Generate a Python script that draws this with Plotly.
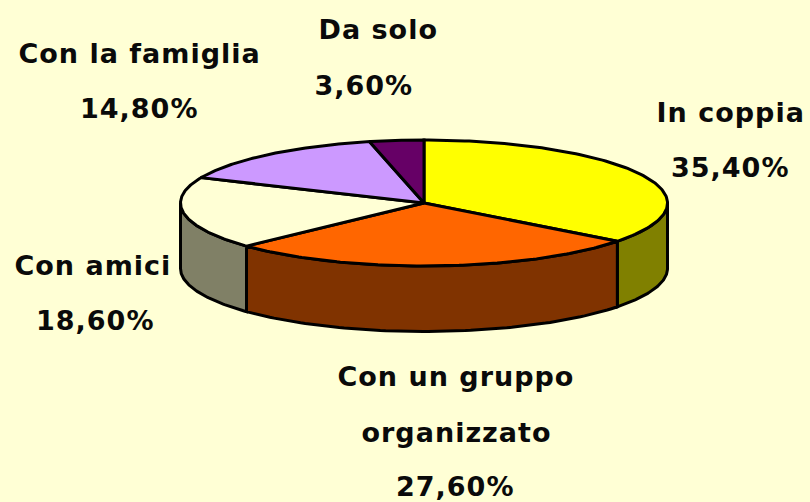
import numpy as np
import plotly.graph_objects as go

categories = ["In coppia", "Con un gruppo organizzato", "Con amici", "Con la famiglia", "Da solo"]
values = [35.4, 27.6, 18.6, 14.8, 3.6]
top_colors = ["#FFFF00", "#FF6600", "#FFFFD5", "#CC99FF", "#660066"]
side_colors = ["#808000", "#803300", "#808066", "#665080", "#330033"]
label_texts = ["In coppia", "35,40%", "Con un gruppo", "organizzato", "27,60%",
               "Con amici", "18,60%", "Con la famiglia", "14,80%", "Da solo", "3,60%"]
label_x = [730, 730, 456, 456, 455, 93, 95, 139, 139, 378, 364]
label_y = [112, 167, 376, 432, 486, 265, 320, 53, 108, 29, 85]

W, H = 810, 502
CX, CY, RX, RY, DEPTH = 424, 203, 243.5, 63, 65.5
BG = "#FFFFD5"
FONT = dict(family="DejaVu Sans", size=27, color="#0a0a0a", weight=700)

def ell(a, dy=0):
    a = np.radians(a)
    return CX + RX * np.sin(a), CY - RY * np.cos(a) + dy

fig = go.Figure()
line = dict(color="#000000", width=3)
edges = np.concatenate([[0], np.cumsum(values) / np.sum(values) * 360])

for i in range(len(values)):
    a0, a1 = max(edges[i], 90), min(edges[i + 1], 270)
    if a1 <= a0:
        continue
    t = np.linspace(a0, a1, 80)
    xt, yt = ell(t)
    xb, yb = ell(t[::-1], DEPTH)
    fig.add_trace(go.Scatter(x=np.r_[xt, xb, xt[0]], y=np.r_[yt, yb, yt[0]], mode="lines",
                             fill="toself", fillcolor=side_colors[i], line=line, hoverinfo="skip"))

for i in range(len(values)):
    t = np.linspace(edges[i], edges[i + 1], 120)
    xt, yt = ell(t)
    fig.add_trace(go.Scatter(x=np.r_[CX, xt, CX], y=np.r_[CY, yt, CY], mode="lines",
                             fill="toself", fillcolor=top_colors[i], line=line,
                             name=categories[i], hoverinfo="skip"))

for s, lx, ly in zip(label_texts, label_x, label_y):
    fig.add_annotation(x=lx, y=ly, text=s, showarrow=False,
                       xanchor="center", yanchor="middle", font=FONT)

fig.update_layout(width=W, height=H, margin=dict(l=0, r=0, t=0, b=0), showlegend=False,
                  paper_bgcolor=BG, plot_bgcolor=BG,
                  xaxis=dict(range=[0, W], visible=False, fixedrange=True),
                  yaxis=dict(range=[H, 0], visible=False, fixedrange=True))
fig.write_html("out.html", config=dict(displayModeBar=False),
               post_script=("document.body.style.margin='0';document.body.style.background='%s';"
                            "document.querySelectorAll('.annotation-text').forEach(function(e){e.style.letterSpacing='1px';});" % BG))
